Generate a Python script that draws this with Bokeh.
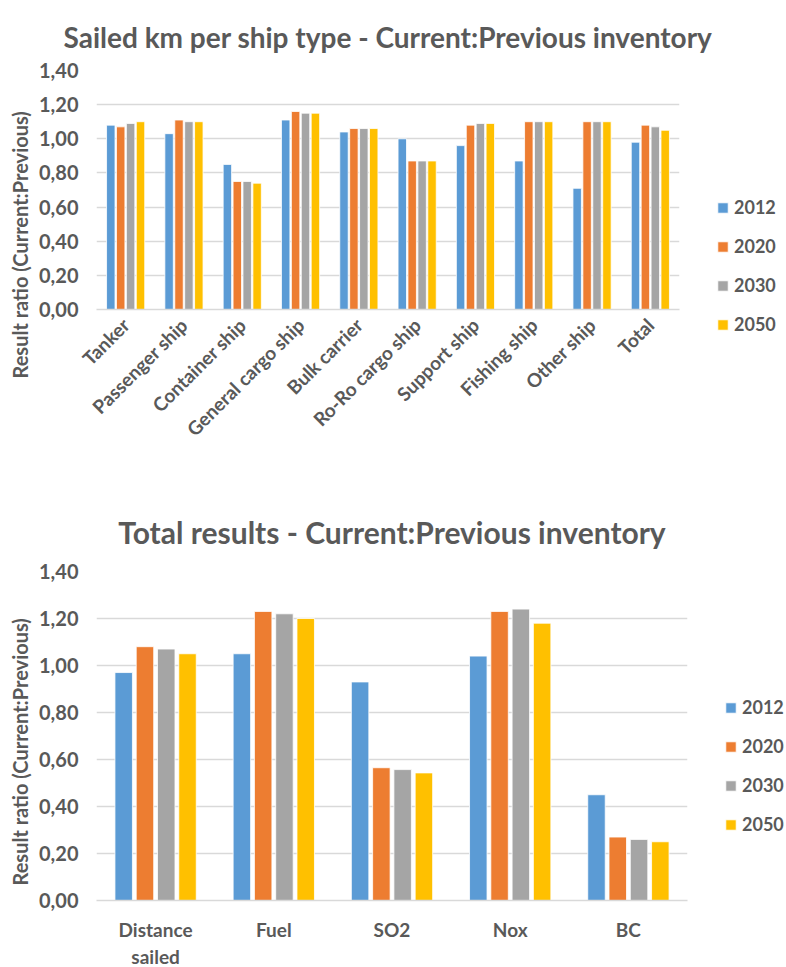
from math import pi
from bokeh.plotting import figure
from bokeh.models import (Range1d, FactorRange, Legend, LegendItem, Title,
                          CustomJSTickFormatter, FixedTicker, ColumnDataSource)
from bokeh.layouts import column
from bokeh.transform import dodge
from bokeh.embed import file_html
from bokeh.resources import INLINE

years = ["2012", "2020", "2030", "2050"]
colors = ["#5B9BD5", "#ED7D31", "#A5A5A5", "#FFC000"]

ship_types = ["Tanker", "Passenger ship", "Container ship", "General cargo ship",
              "Bulk carrier", "Ro-Ro cargo ship", "Support ship", "Fishing ship",
              "Other ship", "Total"]
ship_2012 = [1.08, 1.03, 0.85, 1.11, 1.04, 1.00, 0.96, 0.87, 0.71, 0.98]
ship_2020 = [1.07, 1.11, 0.75, 1.16, 1.06, 0.87, 1.08, 1.10, 1.10, 1.08]
ship_2030 = [1.09, 1.10, 0.75, 1.15, 1.06, 0.87, 1.09, 1.10, 1.10, 1.07]
ship_2050 = [1.10, 1.10, 0.74, 1.15, 1.06, 0.87, 1.09, 1.10, 1.10, 1.05]

metrics = ["Distance\nsailed", "Fuel", "SO2", "Nox", "BC"]
tot_2012 = [0.97, 1.05, 0.93, 1.04, 0.45]
tot_2020 = [1.08, 1.23, 0.565, 1.23, 0.27]
tot_2030 = [1.07, 1.22, 0.557, 1.24, 0.26]
tot_2050 = [1.05, 1.20, 0.543, 1.18, 0.25]

y_ticks = [0.0, 0.2, 0.4, 0.6, 0.8, 1.0, 1.2, 1.4]

FONT = "Lato"
TXT = "#595959"
GRID = "#D9D9D9"


def make_chart(title, title_size, title_standoff, cats, series, frame_w,
               frame_h, borders, spacing, width, ylabel_offset, legend_loc, rotate,
               xfont, xstandoff):
    src = ColumnDataSource(dict(cat=cats, **{y: s for y, s in zip(years, series)}))
    p = figure(x_range=FactorRange(*cats), y_range=Range1d(0, 1.4),
               frame_width=frame_w, frame_height=frame_h,
               min_border_left=borders[0], min_border_right=borders[1],
               min_border_top=borders[2], min_border_bottom=borders[3],
               output_backend="svg", toolbar_location=None, tools="",
               outline_line_color=None, title=None)
    t = Title(text=title, align="center", vertical_align="top", text_font=FONT,
              text_font_size=title_size, text_font_style="bold", text_color=TXT,
              standoff=title_standoff)
    p.add_layout(t, "above")

    offs = [-1.5 * spacing, -0.5 * spacing, 0.5 * spacing, 1.5 * spacing]
    items = []
    for y, c, o in zip(years, colors, offs):
        r = p.vbar(x=dodge("cat", o, range=p.x_range), top=y, width=width,
                   source=src, fill_color=c, line_color="white", line_width=0.8)
        items.append(LegendItem(label=y, renderers=[r]))

    yax = p.yaxis[0]
    yax.ticker = FixedTicker(ticks=y_ticks)
    yax.formatter = CustomJSTickFormatter(code="return tick.toFixed(2).replace('.', ',');")
    yax.axis_line_color = None
    yax.major_tick_line_color = None
    yax.minor_tick_line_color = None
    yax.major_tick_out = 0
    yax.major_tick_in = 0
    yax.major_label_text_font = FONT
    yax.major_label_text_font_size = "20px"
    yax.major_label_text_font_style = "bold"
    yax.major_label_text_color = TXT
    yax.major_label_standoff = 18

    lt = Title(text="Result ratio (Current:Previous)", align="left", offset=ylabel_offset,
               text_font=FONT, text_font_size="20px", text_font_style="bold",
               text_color=TXT, standoff=10)
    p.add_layout(lt, "left")

    xax = p.xaxis[0]
    xax.axis_line_color = GRID
    xax.axis_line_width = 1.5
    xax.major_tick_line_color = None
    xax.minor_tick_line_color = None
    xax.major_tick_out = 0
    xax.major_tick_in = 0
    xax.major_label_text_font = FONT
    xax.major_label_text_font_size = xfont
    xax.major_label_text_font_style = "bold"
    xax.major_label_text_color = TXT
    xax.major_label_standoff = xstandoff
    if rotate:
        xax.major_label_orientation = pi / 4

    p.xgrid.grid_line_color = None
    p.ygrid.ticker = FixedTicker(ticks=y_ticks)
    p.ygrid.grid_line_color = GRID
    p.ygrid.grid_line_width = 1.5

    leg = Legend(items=items, location=legend_loc, orientation="vertical",
                 label_text_font=FONT, label_text_font_size="18px",
                 label_text_font_style="bold", label_text_color=TXT,
                 glyph_width=13, glyph_height=13, label_height=13,
                 label_standoff=5, spacing=17, padding=0, margin=0,
                 border_line_color=None, background_fill_alpha=0)
    p.add_layout(leg, "right")
    return p


p1 = make_chart("Sailed km per ship type - Current:Previous inventory", "28px", 30,
                ship_types, [ship_2012, ship_2020, ship_2030, ship_2050],
                583, 239, (94, 93, 70, 179), 0.17, 0.145, -69, (37, -26), True,
                "19px", 12)

p2 = make_chart("Total results - Current:Previous inventory", "30px", 40,
                metrics, [tot_2012, tot_2020, tot_2030, tot_2050],
                591, 329, (91, 88, 83, 55), 0.18, 0.148, 15, (37, 65), False,
                "19px", 17)

layout = column(p1, p2, spacing=0)
open("out.html", "w").write(file_html(layout, INLINE))
